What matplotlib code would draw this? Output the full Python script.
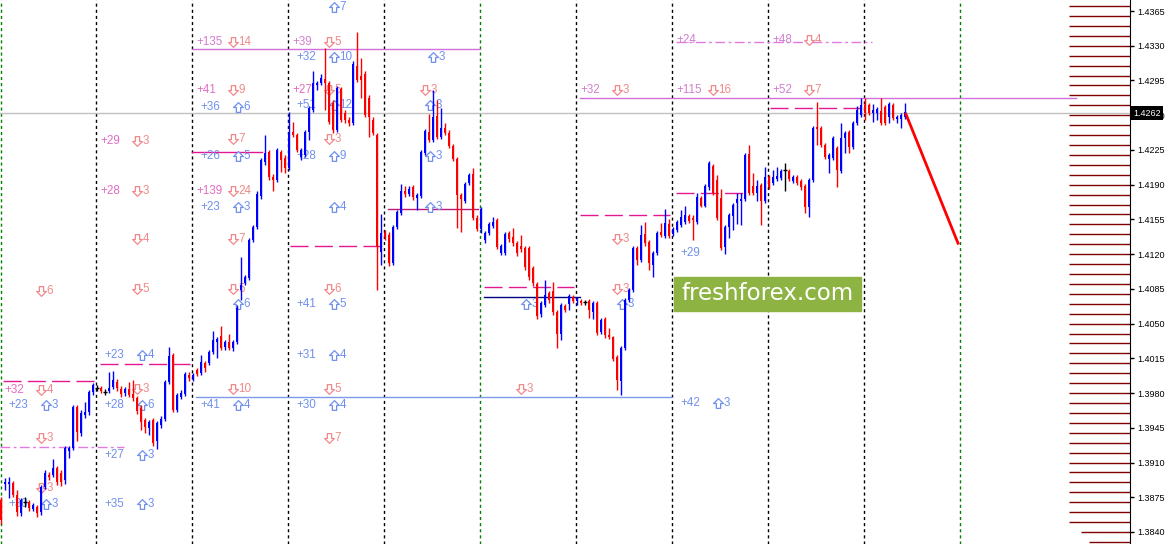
import numpy as np
import matplotlib.pyplot as plt
from matplotlib.patches import Rectangle
from matplotlib.path import Path
import matplotlib.transforms as mtransforms

plt.rcParams['lines.scale_dashes'] = False

# H1 candles, prices in pips (1.4262 -> 14262)
opens = [
    13872, 13888, 13888, 13889, 13877, 13859, 13870, 13870, 13863, 13865, 13860, 13885,
    13897, 13897, 13904, 13899, 13892, 13922, 13925, 13966, 13940, 13958, 13961, 13981,
    13985, 13985, 13981, 13982, 13986, 13991, 13984, 13980, 13984, 13979, 13975, 13965,
    13953, 13945, 13953, 13932, 13948, 13954, 13991, 14018, 13963, 13976, 13979, 13998,
    13995, 14003, 14000, 14010, 14010, 14021, 14031, 14038, 14026, 14031, 14025, 14031,
    14084, 14091, 14096, 14134, 14147, 14179, 14213, 14223, 14198, 14195, 14223, 14217,
    14207, 14243, 14240, 14218, 14220, 14243, 14265, 14290, 14292, 14296, 14292, 14272,
    14245, 14286, 14262, 14255, 14252, 14310, 14300, 14302, 14277, 14255, 14240, 14122,
    14141, 14139, 14111, 14147, 14161, 14184, 14181, 14188, 14177, 14179, 14222, 14243,
    14235, 14259, 14238, 14247, 14242, 14229, 14216, 14180, 14174, 14192, 14201, 14156,
    14145, 14134, 14141, 14148, 14154, 14121, 14121, 14141, 14137, 14131, 14128, 14126,
    14126, 14106, 14090, 14060, 14069, 14081, 14083, 14062, 14040, 14068, 14070, 14077,
    14073, 14073, 14072, 14073, 14062, 14071, 14042, 14055, 14039, 14036, 14016, 13992,
    14025, 14074, 14084, 14126, 14114, 14140, 14132, 14109, 14121, 14142, 14138, 14150,
    14140, 14144, 14149, 14152, 14158, 14156, 14152, 14177, 14169, 14188, 14209, 14195,
    14177, 14127, 14147, 14158, 14172, 14174, 14176, 14221, 14189, 14182, 14190, 14174,
    14198, 14192, 14196, 14197, 14205, 14204, 14194, 14198, 14194, 14189, 14167, 14195,
    14248, 14247, 14230, 14216, 14217, 14227, 14204, 14237, 14243, 14228, 14252, 14260,
    14270, 14270, 14262, 14262, 14264, 14268, 14258, 14270, 14256, 14256, 14258,
]
highs = [
    13875, 13894, 13895, 13891, 13882, 13874, 13875, 13872, 13869, 13867, 13887, 13902,
    13900, 13914, 13907, 13902, 13927, 13927, 13968, 13968, 13963, 13971, 13983, 13990,
    13988, 13987, 13984, 14001, 14002, 13994, 13987, 13986, 13991, 13993, 13977, 13968,
    13955, 13953, 13955, 13952, 13957, 13993, 14026, 14020, 13980, 13983, 14001, 14001,
    14000, 14005, 14018, 14012, 14023, 14043, 14036, 14048, 14033, 14040, 14033, 14069,
    14117, 14099, 14136, 14149, 14184, 14217, 14240, 14225, 14201, 14227, 14225, 14220,
    14263, 14253, 14242, 14227, 14245, 14269, 14305, 14294, 14302, 14328, 14294, 14275,
    14289, 14288, 14265, 14258, 14315, 14344, 14318, 14305, 14280, 14258, 14242, 14160,
    14144, 14142, 14149, 14164, 14191, 14189, 14189, 14190, 14182, 14225, 14246, 14261,
    14285, 14275, 14267, 14252, 14245, 14231, 14218, 14182, 14193, 14202, 14207, 14159,
    14167, 14143, 14152, 14157, 14156, 14130, 14142, 14143, 14146, 14133, 14139, 14128,
    14128, 14108, 14092, 14073, 14094, 14083, 14092, 14064, 14071, 14070, 14080, 14079,
    14077, 14075, 14074, 14075, 14073, 14073, 14056, 14057, 14046, 14038, 14018, 14027,
    14076, 14086, 14128, 14128, 14149, 14152, 14134, 14123, 14143, 14151, 14165, 14155,
    14147, 14154, 14164, 14169, 14160, 14159, 14182, 14179, 14191, 14214, 14211, 14200,
    14186, 14149, 14161, 14172, 14182, 14182, 14222, 14230, 14202, 14195, 14192, 14208,
    14200, 14205, 14208, 14206, 14212, 14206, 14200, 14200, 14196, 14191, 14197, 14249,
    14273, 14249, 14232, 14222, 14239, 14229, 14252, 14244, 14245, 14254, 14269, 14277,
    14277, 14272, 14271, 14268, 14277, 14270, 14273, 14272, 14260, 14262, 14272,
]
lows = [
    13848, 13882, 13874, 13875, 13856, 13856, 13865, 13861, 13861, 13855, 13857, 13883,
    13892, 13895, 13887, 13886, 13888, 13915, 13923, 13932, 13937, 13955, 13958, 13978,
    13982, 13980, 13978, 13980, 13984, 13982, 13976, 13977, 13976, 13972, 13959, 13943,
    13940, 13938, 13927, 13924, 13945, 13952, 13989, 13961, 13961, 13974, 13977, 13992,
    13992, 13997, 13998, 14001, 14008, 14019, 14015, 14023, 14023, 14023, 14022, 14029,
    14074, 14089, 14094, 14132, 14145, 14176, 14210, 14195, 14184, 14193, 14203, 14202,
    14205, 14238, 14223, 14215, 14218, 14235, 14263, 14285, 14290, 14265, 14251, 14242,
    14243, 14253, 14252, 14249, 14250, 14293, 14277, 14258, 14238, 14240, 14084, 14109,
    14134, 14108, 14109, 14145, 14159, 14178, 14179, 14175, 14164, 14177, 14220, 14233,
    14233, 14236, 14236, 14240, 14227, 14214, 14146, 14142, 14172, 14190, 14154, 14143,
    14141, 14131, 14139, 14146, 14125, 14119, 14119, 14132, 14128, 14118, 14122, 14104,
    14094, 14088, 14055, 14057, 14067, 14071, 14059, 14025, 14033, 14062, 14064, 14071,
    14069, 14069, 14069, 14056, 14055, 14039, 14040, 14035, 14034, 14012, 13983, 13978,
    14023, 14072, 14082, 14109, 14112, 14128, 14104, 14097, 14119, 14137, 14136, 14136,
    14138, 14142, 14147, 14150, 14151, 14134, 14150, 14167, 14167, 14185, 14180, 14154,
    14124, 14120, 14136, 14144, 14150, 14149, 14174, 14180, 14180, 14174, 14149, 14172,
    14186, 14190, 14194, 14195, 14184, 14194, 14192, 14190, 14185, 14161, 14157, 14193,
    14230, 14228, 14216, 14202, 14215, 14188, 14202, 14222, 14222, 14226, 14250, 14258,
    14255, 14260, 14253, 14255, 14250, 14250, 14252, 14255, 14252, 14247, 14256,
]
closes = [
    13852, 13890, 13890, 13877, 13860, 13872, 13870, 13864, 13867, 13859, 13885, 13899,
    13895, 13904, 13890, 13890, 13925, 13925, 13966, 13941, 13960, 13961, 13981, 13988,
    13985, 13982, 13981, 13985, 13993, 13985, 13979, 13984, 13978, 13975, 13962, 13951,
    13946, 13951, 13930, 13950, 13954, 13991, 14017, 13963, 13978, 13980, 13999, 13995,
    13998, 13999, 14011, 14005, 14021, 14033, 14034, 14025, 14031, 14025, 14031, 14066,
    14089, 14097, 14134, 14147, 14181, 14215, 14222, 14198, 14195, 14225, 14215, 14207,
    14242, 14240, 14225, 14225, 14243, 14267, 14292, 14292, 14297, 14292, 14253, 14245,
    14287, 14255, 14255, 14252, 14312, 14295, 14295, 14260, 14258, 14242, 14127, 14141,
    14137, 14111, 14147, 14162, 14184, 14181, 14186, 14178, 14180, 14223, 14244, 14235,
    14258, 14238, 14247, 14242, 14229, 14216, 14180, 14176, 14191, 14200, 14156, 14145,
    14165, 14141, 14150, 14152, 14127, 14128, 14140, 14135, 14131, 14121, 14125, 14107,
    14097, 14091, 14058, 14071, 14079, 14074, 14062, 14040, 14069, 14064, 14078, 14073,
    14075, 14071, 14072, 14064, 14071, 14041, 14054, 14039, 14036, 14014, 13993, 14025,
    14074, 14084, 14126, 14114, 14139, 14131, 14111, 14121, 14141, 14139, 14151, 14138,
    14145, 14152, 14157, 14159, 14153, 14154, 14178, 14169, 14189, 14212, 14182, 14156,
    14126, 14147, 14159, 14170, 14176, 14176, 14220, 14182, 14182, 14189, 14174, 14198,
    14188, 14198, 14199, 14204, 14205, 14196, 14198, 14192, 14188, 14168, 14195, 14247,
    14246, 14230, 14218, 14220, 14237, 14205, 14237, 14242, 14228, 14252, 14265, 14270,
    14262, 14262, 14265, 14266, 14252, 14252, 14271, 14257, 14258, 14260, 14263,
]

current_price = 1.4262
forecast_x = [226.25, 239.25]
forecast_y = [1.4261, 1.4131]

# level segments: price, first bar, last bar, style
segments = [
    (1.3992, 0.5, 23.5, 'pink_dash'),
    (1.3926, -0.25, 30.75, 'violet_dashdot'),
    (1.4009, 24.75, 47.25, 'pink_dash'),
    (1.4223, 47.75, 65.25, 'pink_solid'),
    (1.4327, 47.75, 119.75, 'orchid_solid'),
    (1.4128, 72.25, 94.75, 'pink_dash'),
    (1.4165, 96.75, 119.25, 'red_violet'),
    (1.4087, 120.75, 143.25, 'pink_dash'),
    (1.4077, 120.75, 144.75, 'navy'),
    (1.4159, 144.75, 167.25, 'pink_dash'),
    (1.4182, 168.75, 186.5, 'pink_dash'),
    (1.4277, 144.75, 268.75, 'orchid_solid'),
    (1.4267, 192.25, 214.75, 'pink_dash'),
    (1.4334, 168.75, 217.75, 'violet_dashdot'),
    (1.3976, 48.75, 167.75, 'steel'),
]

# text marks: bar, price, text, colour
labels = [
    (0.75, 1.3983, '+32', 'pink'), (9, 1.3983, '⇩4', 'salmon'),
    (1.75, 1.3968, '+23', 'blue'), (10.25, 1.3968, '⇧3', 'blue'),
    (9, 1.3935, '⇩3', 'salmon'), (9, 1.4083, '⇩6', 'salmon'),
    (9, 1.3884, '⇩3', 'salmon'), (1.75, 1.3868, '+30', 'blue'),
    (10.25, 1.3868, '⇧3', 'blue'),
    (24.75, 1.4234, '+29', 'pink'), (33, 1.4234, '⇩3', 'salmon'),
    (24.75, 1.4184, '+28', 'pink'), (33, 1.4184, '⇩3', 'salmon'),
    (33, 1.4135, '⇩4', 'salmon'), (33, 1.4085, '⇩5', 'salmon'),
    (25.75, 1.4018, '+23', 'blue'), (34.25, 1.4018, '⇧4', 'blue'),
    (33, 1.3984, '⇩3', 'salmon'),
    (25.75, 1.3968, '+28', 'blue'), (34.25, 1.3968, '⇧6', 'blue'),
    (25.75, 1.3918, '+27', 'blue'), (34.25, 1.3918, '⇧3', 'blue'),
    (25.75, 1.3868, '+35', 'blue'), (34.25, 1.3868, '⇧3', 'blue'),
    (48.75, 1.4334, '+135', 'orchid'), (57, 1.4334, '⇩14', 'salmon'),
    (48.75, 1.4285, '+41', 'pink'), (57, 1.4285, '⇩9', 'salmon'),
    (49.75, 1.4268, '+36', 'blue'), (58.25, 1.4268, '⇧6', 'blue'),
    (57, 1.4236, '⇩7', 'salmon'),
    (49.75, 1.4219, '+26', 'blue'), (58.25, 1.4219, '⇧5', 'blue'),
    (48.75, 1.4184, '+139', 'pink'), (57, 1.4184, '⇩24', 'salmon'),
    (49.75, 1.4168, '+23', 'blue'), (58.25, 1.4168, '⇧3', 'blue'),
    (57, 1.4135, '⇩7', 'salmon'), (57, 1.4085, '⇩5', 'salmon'),
    (58.25, 1.4070, '⇧6', 'blue'), (57, 1.3984, '⇩10', 'salmon'),
    (49.75, 1.3968, '+41', 'blue'), (58.25, 1.3968, '⇧4', 'blue'),
    (82.25, 1.4369, '⇧7', 'blue'),
    (72.75, 1.4334, '+39', 'orchid'), (81, 1.4334, '⇩5', 'salmon'),
    (73.75, 1.4319, '+32', 'blue'), (82.25, 1.4319, '⇧10', 'blue'),
    (72.75, 1.4285, '+27', 'pink'), (81, 1.4285, '⇩5', 'salmon'),
    (73.75, 1.4270, '+51', 'blue'), (82.25, 1.4270, '⇧12', 'blue'),
    (81, 1.4236, '⇩3', 'salmon'),
    (73.75, 1.4219, '+28', 'blue'), (82.25, 1.4219, '⇧9', 'blue'),
    (82.25, 1.4168, '⇧4', 'blue'), (81, 1.4085, '⇩6', 'salmon'),
    (73.75, 1.4070, '+41', 'blue'), (82.25, 1.4070, '⇧5', 'blue'),
    (73.75, 1.4018, '+31', 'blue'), (82.25, 1.4018, '⇧4', 'blue'),
    (81, 1.3984, '⇩5', 'salmon'),
    (73.75, 1.3968, '+30', 'blue'), (82.25, 1.3968, '⇧4', 'blue'),
    (81, 1.3935, '⇩7', 'salmon'),
    (105, 1.4285, '⇩3', 'salmon'), (107, 1.4319, '⇧3', 'blue'),
    (106.25, 1.4270, '⇧3', 'blue'), (106.25, 1.4219, '⇧3', 'blue'),
    (106.25, 1.4168, '⇧3', 'blue'),
    (129, 1.3984, '⇩3', 'salmon'), (130.25, 1.4070, '⇧3', 'blue'),
    (144.75, 1.4285, '+32', 'orchid'), (153, 1.4285, '⇩3', 'salmon'),
    (153, 1.4135, '⇩3', 'salmon'), (153, 1.4085, '⇩3', 'salmon'),
    (154.25, 1.4070, '⇧3', 'blue'),
    (168.75, 1.4336, '+24', 'orchid'),
    (168.75, 1.4285, '+115', 'orchid'), (177, 1.4285, '⇩16', 'salmon'),
    (169.75, 1.4121, '+29', 'blue'),
    (169.75, 1.3970, '+42', 'blue'), (178.25, 1.3970, '⇧3', 'blue'),
    (192.75, 1.4336, '+48', 'orchid'), (201, 1.4336, '⇩4', 'salmon'),
    (192.75, 1.4285, '+52', 'orchid'), (201, 1.4285, '⇩7', 'salmon'),
]

colors = {'pink': '#e46cc4', 'orchid': '#d27fd0', 'salmon': '#f08a8a',
          'blue': '#7090ee'}
styles = {
    'pink_dash': dict(color='#e3188f', lw=1, dashes=(13, 4.5)),
    'pink_solid': dict(color='#e3188f', lw=1),
    'violet_dashdot': dict(color='#e27ae2', lw=1, dashes=(7, 2.5, 2, 2.5)),
    'orchid_solid': dict(color='#d070d8', lw=1),
    'red_violet': dict(color='#c0187a', lw=1),
    'navy': dict(color='#000080', lw=1),
    'steel': dict(color='#7b9be6', lw=1),
}

# hollow block arrow used by the signal labels
up_verts = [(-0.22, -0.5), (0.22, -0.5), (0.22, 0.0), (0.5, 0.0), (0.0, 0.5),
            (-0.5, 0.0), (-0.22, 0.0), (-0.22, -0.5)]
up_arrow = Path(up_verts, closed=True)
down_arrow = Path([(x, -y) for x, y in up_verts], closed=True)

PIP = 10000.0
o = np.array(opens) / PIP
h = np.array(highs) / PIP
l = np.array(lows) / PIP
c = np.array(closes) / PIP
idx = np.arange(len(o))

fig = plt.figure(figsize=(11.69, 5.44), dpi=100)
ax = fig.add_axes([0, 0, 1130 / 1169, 1])
ax.set_xlim(-0.25, 282.25)
ax.set_ylim(1.38279, 1.43761)
for side in ('left', 'top', 'bottom'):
    ax.spines[side].set_visible(False)
ax.spines['right'].set_color('black')
ax.set_xticks([])

# day / week separators
for k in range(11):
    col = '#008000' if k % 5 == 0 else 'black'
    xk = max(24 * k - 0.25, -0.1)
    ax.axvline(xk, color=col, lw=1, dashes=(2.2, 2.2), zorder=1)

# volume-like levels on the right
profile_levels = np.arange(13830, 14371, 10) / PIP
profile_start = np.full(len(profile_levels), 267.0)
profile_start[0] = 272.0
profile_start[1] = 270.0
ax.hlines(profile_levels, profile_start, 282.25, color='#800000', lw=1, zorder=2)

ax.axhline(current_price, color='#c0c0c0', lw=1, zorder=2)

for price, x0, x1, st in segments:
    ax.plot([x0, x1], [price, price], zorder=3, **styles[st])

txt_font = ['Liberation Sans', 'DejaVu Sans']
for x, y, t, col in labels:
    if t[0] in '⇩⇧':
        mk = down_arrow if t[0] == '⇩' else up_arrow
        ax.plot(x + 1.1, y, marker=mk, markersize=7, markerfacecolor='white',
                markeredgecolor=colors[col], markeredgewidth=0.9, zorder=4)
        ax.text(x + 2.4, y, t[1:], color=colors[col], fontsize=8.4, ha='left',
                va='center', family=txt_font, zorder=4)
    else:
        ax.text(x, y, t, color=colors[col], fontsize=8.4, ha='left', va='center',
                family=txt_font, zorder=4)

# candles
up = c > o
dn = c < o
dj = c == o
ax.vlines(idx[up], l[up], h[up], color='#0000ff', lw=1, zorder=5)
ax.bar(idx[up], c[up] - o[up], bottom=o[up], width=0.72, color='#0000ff', lw=0, zorder=5)
ax.vlines(idx[dn], l[dn], h[dn], color='#ff0000', lw=1, zorder=5)
ax.bar(idx[dn], o[dn] - c[dn], bottom=c[dn], width=0.72, color='#ff0000', lw=0, zorder=5)
ax.vlines(idx[dj], l[dj], h[dj], color='black', lw=1, zorder=5)
ax.hlines(o[dj], idx[dj] - 0.4, idx[dj] + 0.4, color='black', lw=1, zorder=5)

ax.plot(forecast_x, forecast_y, color='#ff0000', lw=2, zorder=6)

# price scale
ax.yaxis.tick_right()
yt = np.arange(13840, 14366, 35) / PIP
ax.set_yticks(yt)
ax.set_yticklabels(['%.4f' % v for v in yt], family=txt_font)
ax.tick_params(axis='y', length=3, width=1, direction='out', labelsize=6.5, pad=2.5)
trans = mtransforms.blended_transform_factory(ax.transAxes, ax.transData)
ax.text(1.003, current_price, '%.4f' % current_price, transform=trans, color='white',
        fontsize=6.5, ha='left', va='center', family=txt_font,
        bbox=dict(facecolor='black', edgecolor='none', pad=1.6), zorder=7, clip_on=False)

# watermark
fig.add_artist(Rectangle((674 / 1169, 1 - 311 / 544), 187 / 1169, 34 / 544,
                         transform=fig.transFigure, color='#8db443', zorder=8))
fig.text(768 / 1169, 1 - 294 / 544, 'freshforex.com', color='white', fontsize=16.5,
         ha='center', va='center', zorder=9)

fig.savefig('out.png', dpi=100)
